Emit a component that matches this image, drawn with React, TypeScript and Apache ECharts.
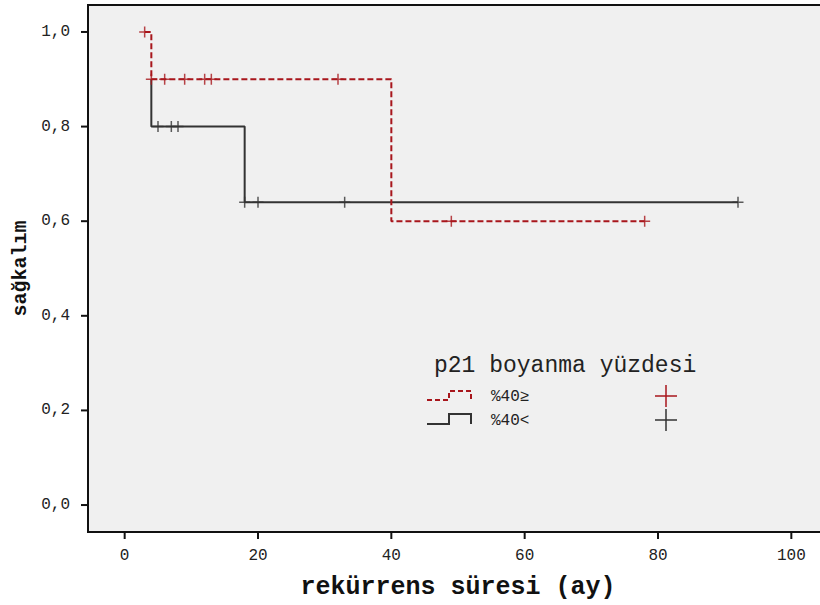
import React, { useEffect, useRef } from "react";
import * as echarts from "echarts";

const xTicks = [0, 20, 40, 60, 80, 100];
const yTicks = [0, 0.2, 0.4, 0.6, 0.8, 1.0];
const X_MIN = -5.5;
const X_MAX = 105.5;
const Y_MIN = -0.057;
const Y_MAX = 1.057;

// Group %40≥ (red, dashed)
const redStepTimes = [3, 4, 40, 78];
const redStepSurv = [1.0, 0.9, 0.6, 0.6];
const redCensorTimes = [3, 4, 6, 9, 12, 13, 32, 49, 78];
const redCensorSurv = [1.0, 0.9, 0.9, 0.9, 0.9, 0.9, 0.9, 0.6, 0.6];

// Group %40< (black, solid)
const blackStepTimes = [4, 4, 18, 92];
const blackStepSurv = [0.9, 0.8, 0.64, 0.64];
const blackCensorTimes = [5, 7, 8, 18, 20, 33, 92];
const blackCensorSurv = [0.8, 0.8, 0.8, 0.64, 0.64, 0.64, 0.64];

const legendTitle = "p21 boyanma yüzdesi";
const groupNames = ["%40≥", "%40<"];

const RED = "#a8161c";
const BLACK = "#333333";
const FONT = "'Liberation Mono', 'DejaVu Sans Mono', monospace";
const PLUS = "path://M0,5L10,5M5,0L5,10";

const GRID_LEFT = 88;
const GRID_TOP = 5;
const GRID_W = 740;
const GRID_H = 527;

const zip = (a: number[], b: number[]) => a.map((v, i) => [v, b[i]]);

export default function App() {
  const ref = useRef<HTMLDivElement>(null);
  useEffect(() => {
    if (!ref.current) return;
    const chart = echarts.init(ref.current, null, { renderer: "svg" });
    const plus = (cx: number, cy: number, color: string) => ({
      type: "group",
      children: [
        { type: "line", shape: { x1: cx - 11, y1: cy, x2: cx + 11, y2: cy }, style: { stroke: color, lineWidth: 1.5 } },
        { type: "line", shape: { x1: cx, y1: cy - 11, x2: cx, y2: cy + 11 }, style: { stroke: color, lineWidth: 1.5 } },
      ],
    });
    // Axis decoration: tick marks outside the frame, following the axis ranges.
    const xPix = (v: number) => GRID_LEFT + ((v - X_MIN) / (X_MAX - X_MIN)) * GRID_W;
    const yPix = (v: number) => GRID_TOP + GRID_H - ((v - Y_MIN) / (Y_MAX - Y_MIN)) * GRID_H;
    const bottom = GRID_TOP + GRID_H;
    const tickGraphics: any[] = [
      ...xTicks.map((v) => ({
        type: "line",
        z: 100,
        shape: { x1: xPix(v), y1: bottom, x2: xPix(v), y2: bottom + 7 },
        style: { stroke: "#111111", lineWidth: 2 },
      })),
      ...yTicks.map((v) => ({
        type: "line",
        z: 100,
        shape: { x1: GRID_LEFT - 7, y1: yPix(v), x2: GRID_LEFT, y2: yPix(v) },
        style: { stroke: "#111111", lineWidth: 2 },
      })),
    ];
    chart.setOption({
      animation: false,
      backgroundColor: "#ffffff",
      grid: {
        left: GRID_LEFT,
        top: GRID_TOP,
        width: GRID_W,
        height: GRID_H,
        show: true,
        outerBoundsMode: "none",
        containLabel: false,
        backgroundColor: "#f0f0f0",
        borderColor: "#111111",
        borderWidth: 2,
      },
      xAxis: {
        type: "value",
        min: X_MIN,
        max: X_MAX,
        name: "rekürrens süresi (ay)",
        nameLocation: "middle",
        nameGap: 43,
        nameTextStyle: { fontFamily: FONT, fontWeight: "bold", fontSize: 25, color: "#111" },
        axisLine: { show: true, onZero: false, lineStyle: { color: "#111", width: 2 } },
        splitLine: { show: false },
        axisTick: { show: false },
        axisLabel: {
          customValues: xTicks,
          margin: 16,
          fontFamily: FONT,
          fontSize: 16,
          color: "#222",
          formatter: (v: number) => String(v),
        },
      },
      yAxis: {
        type: "value",
        min: Y_MIN,
        max: Y_MAX,
        name: "sağkalım",
        nameLocation: "middle",
        nameGap: 56,
        nameRotate: 90,
        nameTextStyle: { fontFamily: FONT, fontWeight: "bold", fontSize: 20, color: "#111" },
        axisLine: { show: true, onZero: false, lineStyle: { color: "#111", width: 2 } },
        splitLine: { show: false },
        axisTick: { show: false },
        axisLabel: {
          customValues: yTicks,
          margin: 18,
          fontFamily: FONT,
          fontSize: 16,
          color: "#222",
          formatter: (v: number) => v.toFixed(1).replace(".", ","),
        },
      },
      series: [
        {
          name: groupNames[1],
          type: "line",
          step: "end",
          data: zip(blackStepTimes, blackStepSurv),
          showSymbol: false,
          lineStyle: { color: BLACK, width: 2 },
          z: 2,
        },
        {
          name: groupNames[0],
          type: "line",
          step: "end",
          data: zip(redStepTimes, redStepSurv),
          showSymbol: false,
          lineStyle: { color: RED, width: 2, type: [6, 3] },
          z: 3,
        },
        {
          type: "scatter",
          data: zip(blackCensorTimes, blackCensorSurv),
          symbol: PLUS,
          symbolSize: 11,
          itemStyle: { color: "rgba(0,0,0,0)", borderColor: BLACK, borderWidth: 1.5 },
          z: 4,
        },
        {
          type: "scatter",
          data: zip(redCensorTimes, redCensorSurv),
          symbol: PLUS,
          symbolSize: 11,
          itemStyle: { color: "rgba(0,0,0,0)", borderColor: RED, borderWidth: 1.5 },
          z: 5,
        },
      ],
      graphic: [
        {
          type: "text",
          left: 434,
          top: 354,
          style: { text: legendTitle, fontFamily: FONT, fontSize: 23, fill: "#222" },
        },
        {
          type: "polyline",
          shape: { points: [[427, 400], [449, 400], [449, 391], [471, 391], [471, 401]] },
          style: { stroke: RED, lineWidth: 2, lineDash: [5, 3], fill: "none" },
        },
        {
          type: "polyline",
          shape: { points: [[427, 424], [449, 424], [449, 414], [471, 414], [471, 424]] },
          style: { stroke: BLACK, lineWidth: 2, fill: "none" },
        },
        {
          type: "text",
          left: 491,
          top: 389,
          style: { text: groupNames[0], fontFamily: FONT, fontSize: 16, fill: "#222" },
        },
        {
          type: "text",
          left: 491,
          top: 413,
          style: { text: groupNames[1], fontFamily: FONT, fontSize: 16, fill: "#222" },
        },
        plus(666, 396, RED),
        plus(666, 420, BLACK),
        ...tickGraphics,
      ],
    });
    return () => chart.dispose();
  }, []);
  return <div ref={ref} style={{ width: 820, height: 605, position: "absolute", left: 0, top: 0 }} />;
}
